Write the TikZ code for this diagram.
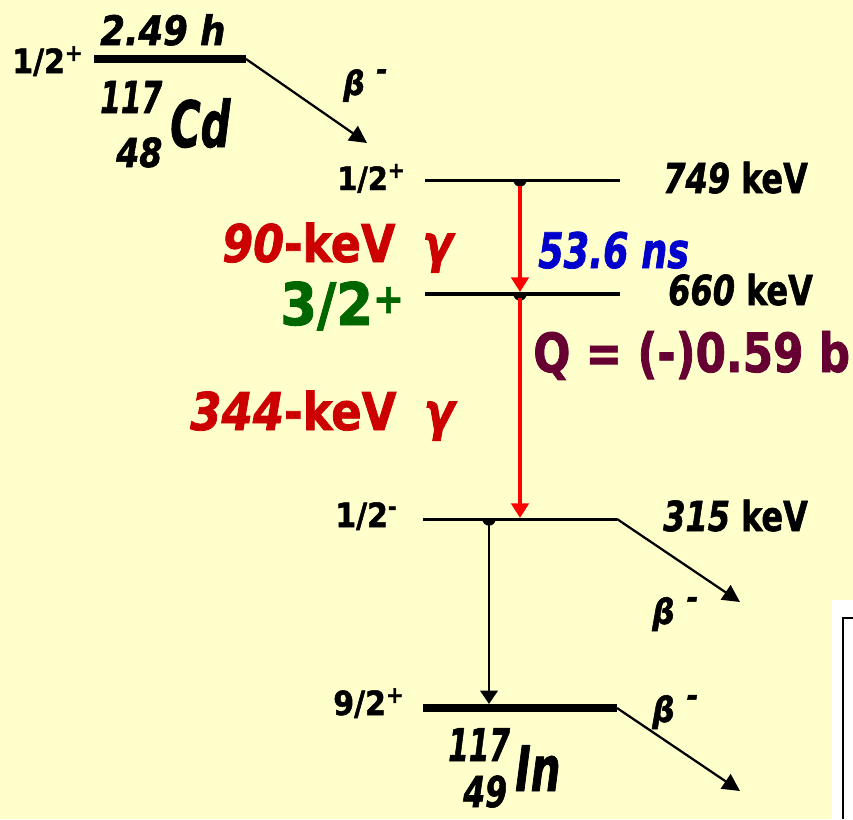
\documentclass[tikz,border=0pt]{standalone}
\usepackage{fontspec}
\usepackage{graphicx}
\setmainfont{DejaVu Sans Condensed}[BoldFont={DejaVu Sans Condensed Bold},ItalicFont={DejaVu Sans Condensed Oblique},BoldItalicFont={DejaVu Sans Condensed Bold Oblique},BoldFeatures={FakeBold=1.5},BoldItalicFeatures={FakeBold=1.5}]
\usetikzlibrary{arrows.meta}
\definecolor{bg}{HTML}{FFFFCC}
\definecolor{gred}{HTML}{CC0000}
\definecolor{arred}{HTML}{FF0000}
\definecolor{tblue}{HTML}{0000CC}
\definecolor{tgreen}{HTML}{006600}
\definecolor{qcol}{HTML}{660033}
\newcommand\fz[1]{\fontsize{#1}{#1}\selectfont}
\newcommand\sx[2]{\scalebox{#1}[1]{#2}}
\newcommand\bminus{β\hspace{0.35em}\raisebox{0.45em}{\scalebox{0.9}{-}}}
\begin{document}
\begin{tikzpicture}[x=0.75pt,y=-0.75pt,
  lbl/.style={inner sep=0pt, anchor=base west, font=\bfseries},
  levthin/.style={line width=2.25pt},
  levmid/.style={line width=3.4pt},
  levthick/.style={line width=6pt},
  barrow/.style={line width=1.7pt, -{Triangle[length=13pt,width=13pt]}},
  varrow/.style={line width=1.9pt, -{Triangle[length=10pt,width=13pt]}},
  rarrow/.style={arred, line width=3.2pt, -{Triangle[length=11pt,width=13pt]}},
  dotc/.style={fill=black}]
\fill[bg] (0,0) rectangle (853,819);
\useasboundingbox (0,0) rectangle (853,819);

% level coordinates
\coordinate (cdL) at (94,59);   \coordinate (cdR) at (246,59);
\coordinate (aL) at (425,180);  \coordinate (aR) at (620,180);
\coordinate (bL) at (425,294);  \coordinate (bR) at (620,294);
\coordinate (cL) at (423,519);  \coordinate (cR) at (617,519);
\coordinate (dL) at (423,708);  \coordinate (dR) at (617,708);
\coordinate (aD) at (520,180);  \coordinate (bD) at (520,294);
\coordinate (cD) at (489,519);
\coordinate (t1) at (367,143);
\coordinate (t2) at (740,602);
\coordinate (t3) at (740,791);
\coordinate (r1s) at (520,186);  \coordinate (r1e) at (520,292);
\coordinate (r2s) at (520,298);  \coordinate (r2e) at (520,518);
\coordinate (k1s) at (489,522);  \coordinate (k1e) at (489,704);

% levels
\draw[levthick] (cdL) -- (cdR);
\draw[levthin] (aL) -- (aR);
\draw[levmid] (bL) -- (bR);
\draw[levthin] (cL) -- (cR);
\draw[levthick] (dL) -- (dR);

% dots
\foreach \p in {aD,bD,cD}{
  \fill[dotc,shift={(\p)}] (-5pt,0) arc[start angle=180,end angle=360,radius=5pt] -- cycle;
}

% transitions
\draw[barrow] (cdR) -- (t1);
\draw[barrow] (cR) -- (t2);
\draw[barrow] (dR) -- (t3);
\draw[rarrow] (r1s) -- (r1e);
\draw[rarrow] (r2s) -- (r2e);
\draw[varrow] (k1s) -- (k1e);

% texts
\node[lbl] (t249) at (100,45) {\fz{30.5pt}\itshape\sx{0.97}{2.49 h}};
\node[lbl] (jcd) at (12,73) {\fz{25pt}1/2\textsuperscript{+}};
\node[lbl] (a117) at (100,113) {\fz{33pt}\itshape\sx{0.75}{117}};
\node[lbl] (z48) at (116,167) {\fz{30pt}\itshape\sx{0.92}{48}};
\node[lbl] (cd) at (170,147) {\fz{48pt}\itshape\sx{0.72}{Cd}};
\node[lbl] (btop) at (343,95) {\fz{25pt}\itshape\bminus};

\node[lbl] (j749) at (337,190) {\fz{24pt}1/2\textsuperscript{+}};
\node[lbl] (e749) at (663,193) {\fz{31pt}\sx{0.86}{{\itshape 749} keV}};
\node[lbl,text=gred] (g90) at (222,262) {\fz{39pt}\sx{0.95}{{\itshape 90}-keV\hspace{0.55em}{\itshape γ}}};
\node[lbl,text=tblue] (ns) at (538,268) {\fz{36.75pt}\itshape\sx{0.83}{53.6 ns}};

\node[lbl,text=tgreen] (j660) at (280,325) {\fz{44pt}3/2\textsuperscript{+}};
\node[lbl] (e660) at (668,305) {\fz{31pt}\sx{0.86}{{\itshape 660} keV}};
\node[lbl,text=qcol] (q) at (533,372) {\fz{40.5pt}\sx{0.9}{Q = (-)0.59 b}};
\node[lbl,text=gred] (g344) at (190,430) {\fz{39pt}\sx{0.96}{{\itshape 344}-keV\hspace{0.55em}{\itshape γ}}};

\node[lbl] (j315) at (335,527) {\fz{25pt}1/2\textsuperscript{-}};
\node[lbl] (e315) at (663,531) {\fz{31pt}\sx{0.86}{{\itshape 315} keV}};
\node[lbl] (bmid) at (652,624) {\fz{26pt}\itshape\bminus};

\node[lbl] (j92) at (333,715) {\fz{25pt}9/2\textsuperscript{+}};
\node[lbl] (blow) at (652,722) {\fz{26pt}\itshape\bminus};
\node[lbl] (i117) at (448,761) {\fz{33.75pt}\itshape\sx{0.73}{117}};
\node[lbl] (z49) at (463,807) {\fz{32pt}\itshape\sx{0.82}{49}};
\node[lbl] (in) at (515,791) {\fz{47pt}\itshape\sx{0.74}{In}};

% cropped picture fragment at lower right
\fill[white] (832,600) rectangle (853,819);
\draw[line width=1.5pt] (853,618) -- (843,618) -- (843,819);
\end{tikzpicture}
\end{document}
